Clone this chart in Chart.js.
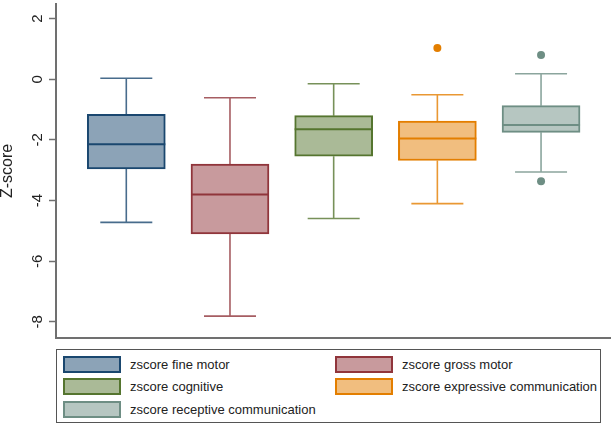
<!DOCTYPE html>
<html>
<head>
<meta charset="utf-8">
<script src="https://cdn.jsdelivr.net/npm/chart.js@4"></script>
<style>
  body { margin: 0; background: #fff; font-family: "Liberation Sans", Arial, Helvetica, sans-serif; }
  #wrap { position: relative; width: 614px; height: 426px; }
  #myChart { position: absolute; left: 0; top: 0; }
  #legend { position: absolute; left: 56px; top: 349px; width: 545px; height: 74px; border: 1px solid #555; box-sizing: border-box; }
  .item { position: absolute; height: 17px; font-size: 13px; color: #222; white-space: nowrap; }
  .sw { position: absolute; left: 0; top: 0; width: 58px; height: 17px; box-sizing: border-box; border: 2px solid; }
  .lab { position: absolute; left: 67px; top: 0; line-height: 17px; }
</style>
</head>
<body>
<div id="wrap">
  <canvas id="myChart" width="614" height="342"></canvas>
  <div id="legend"></div>
</div>
<script>
/*###################### DATOS ####################*/
const categories = ['zscore fine motor', 'zscore gross motor', 'zscore cognitive',
                    'zscore expressive communication', 'zscore receptive communication'];
const positions = [1, 2, 3, 4, 5];
const whiskerLow  = [-4.72, -7.81, -4.59, -4.10, -3.06];
const q1          = [-2.96, -5.10, -2.54, -2.68, -1.75];
const median      = [-2.14, -3.80, -1.65, -1.95, -1.51];
const q3          = [-1.16, -2.80, -1.20, -1.38, -0.87];
const whiskerHigh = [ 0.03, -0.61, -0.15, -0.51,  0.18];
const outlierGroup = [4, 5, 5];
const outlierValue = [1.03, 0.80, -3.36];
const yTicks = [-8, -6, -4, -2, 0, 2];

/* colores (navy, maroon, forest green, dark orange, teal) */
const lineColors = ['#1a476f', '#90353b', '#55752f', '#e37e00', '#6e8e84'];
const fillColors = ['#8ca3b7', '#c89a9d', '#aaba97', '#f1be7f', '#b6c6c1'];

const FONT = '"Liberation Sans", Arial, Helvetica, sans-serif';

/*###################### BIGOTES Y MEDIANA ####################*/
const boxExtras = {
  id: 'boxExtras',
  afterDatasetsDraw(chart) {
    const ctx = chart.ctx;
    const xs = chart.scales.x, ys = chart.scales.y;
    const boxW = 78, capW = 52;
    ctx.save();
    positions.forEach((p, i) => {
      const cx = xs.getPixelForValue(p);
      ctx.strokeStyle = lineColors[i];
      ctx.globalAlpha = 0.8;
      ctx.lineWidth = 1.6;
      ctx.beginPath();
      // bigote superior
      ctx.moveTo(cx, ys.getPixelForValue(q3[i]));
      ctx.lineTo(cx, ys.getPixelForValue(whiskerHigh[i]));
      ctx.moveTo(cx - capW / 2, ys.getPixelForValue(whiskerHigh[i]));
      ctx.lineTo(cx + capW / 2, ys.getPixelForValue(whiskerHigh[i]));
      // bigote inferior
      ctx.moveTo(cx, ys.getPixelForValue(q1[i]));
      ctx.lineTo(cx, ys.getPixelForValue(whiskerLow[i]));
      ctx.moveTo(cx - capW / 2, ys.getPixelForValue(whiskerLow[i]));
      ctx.lineTo(cx + capW / 2, ys.getPixelForValue(whiskerLow[i]));
      ctx.stroke();
      // mediana
      ctx.globalAlpha = 1;
      ctx.lineWidth = 2;
      ctx.beginPath();
      ctx.moveTo(cx - boxW / 2, ys.getPixelForValue(median[i]));
      ctx.lineTo(cx + boxW / 2, ys.getPixelForValue(median[i]));
      ctx.stroke();
    });
    ctx.restore();
  }
};

/*###################### GRAFICO ####################*/
const ctx = document.getElementById('myChart');

const data = {
  datasets: [{
    type: 'bar',
    label: 'box',
    data: positions.map((p, i) => ({ x: p, y: [q1[i], q3[i]] })),
    backgroundColor: fillColors,
    borderColor: lineColors,
    borderWidth: 2,
    borderSkipped: false,
    barThickness: 78,
    grouped: false
  }, {
    type: 'scatter',
    label: 'outliers',
    data: outlierGroup.map((g, i) => ({ x: g, y: outlierValue[i] })),
    backgroundColor: outlierGroup.map(g => lineColors[g - 1]),
    borderWidth: 0,
    pointRadius: 4
  }]
};

const config = {
  type: 'bar',
  data: data,
  plugins: [boxExtras],
  options: {
    responsive: false,
    animation: false,
    layout: { padding: { top: 3, right: 4, left: 0, bottom: 0 } },
    plugins: { legend: { display: false }, tooltip: { enabled: false } },
    scales: {
      x: {
        type: 'linear',
        offset: false,
        min: 0.322,
        max: 5.665,
        ticks: { display: false },
        grid: { display: false },
        border: { display: true, color: '#707070', width: 2 },
        afterFit: (s) => { s.height = 3; s.paddingLeft = 0; s.paddingRight = 0; }
      },
      y: {
        min: -8.53,
        max: 2.48,
        afterBuildTicks: (s) => { s.ticks = yTicks.map(v => ({ value: v })); },
        afterFit: (s) => { s.width = 56; s.paddingTop = 0; s.paddingBottom = 0; },
        ticks: {
          minRotation: 90,
          maxRotation: 90,
          crossAlign: 'center',
          padding: 4,
          color: '#222',
          font: { family: FONT, size: 15 }
        },
        grid: { drawOnChartArea: false, drawTicks: true, tickLength: 7, color: '#707070', tickWidth: 1.5 },
        border: { display: true, color: '#707070', width: 2 },
        title: {
          display: true,
          text: 'Z-score',
          color: '#222',
          padding: 0,
          font: { family: FONT, size: 16, lineHeight: 1 }
        }
      }
    }
  }
};

const chart = new Chart(ctx, config);

/*###################### LEYENDA ####################*/
const legend = document.getElementById('legend');
categories.forEach((c, i) => {
  const item = document.createElement('div');
  item.className = 'item';
  item.style.left = (6 + (i % 2) * 272) + 'px';
  item.style.top = (6 + Math.floor(i / 2) * 22.3) + 'px';
  const sw = document.createElement('div');
  sw.className = 'sw';
  sw.style.background = fillColors[i];
  sw.style.borderColor = lineColors[i];
  const lab = document.createElement('span');
  lab.className = 'lab';
  lab.textContent = c;
  item.appendChild(sw);
  item.appendChild(lab);
  legend.appendChild(item);
});
</script>
</body>
</html>
